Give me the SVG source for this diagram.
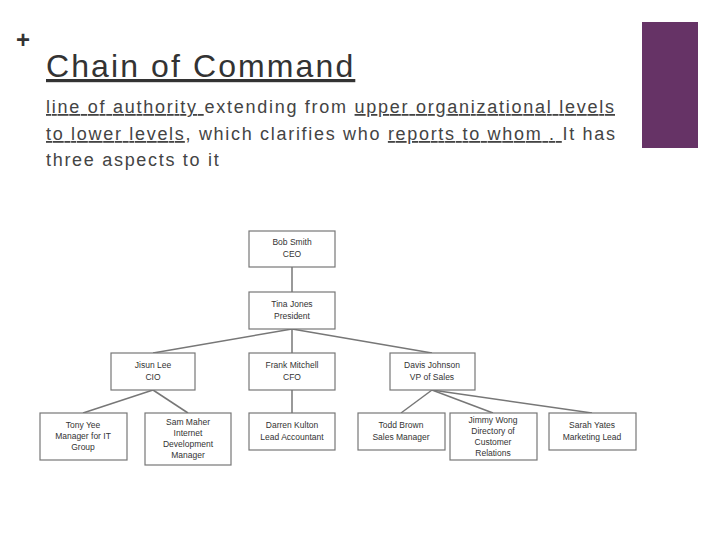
<svg xmlns="http://www.w3.org/2000/svg" width="720" height="540" viewBox="0 0 720 540">
<style>
.t{font-family:"Liberation Sans",Arial,sans-serif;fill:#333}
.b{fill:#fff;stroke:#777;stroke-width:1.2}
.n{font-family:"Liberation Sans",Arial,sans-serif;font-size:8.5px;fill:#333;text-anchor:middle}
.c line{stroke:#777;stroke-width:1.5}
</style>
<rect width="720" height="540" fill="#fff"/>
<rect x="642" y="22" width="56" height="126" fill="#663366"/>
<text class="t" x="16" y="48" font-size="24" font-weight="bold">+</text>
<text class="t" x="46" y="77" font-size="32" letter-spacing="2.1" text-decoration="underline">Chain of Command</text>
<g class="t" font-size="18" letter-spacing="1.05" style="fill:#444">
<text x="46" y="113" textLength="569" lengthAdjust="spacing"><tspan text-decoration="underline">line of authority </tspan>extending from <tspan text-decoration="underline">upper organizational levels</tspan></text>
<text x="46" y="140" textLength="570" lengthAdjust="spacing"><tspan text-decoration="underline">to lower levels</tspan>, which clarifies who <tspan text-decoration="underline">reports to whom . </tspan>It has</text>
<text x="46" y="166" letter-spacing="1.7">three aspects to it</text>
</g>
<g class="c">
<line x1="292" y1="267" x2="292" y2="292"/>
<line x1="292" y1="329" x2="153" y2="353"/>
<line x1="292" y1="329" x2="292" y2="353"/>
<line x1="292" y1="329" x2="432" y2="353"/>
<line x1="153" y1="390" x2="83" y2="413"/>
<line x1="153" y1="390" x2="188" y2="413"/>
<line x1="292" y1="390" x2="292" y2="413"/>
<line x1="432" y1="390" x2="401" y2="413"/>
<line x1="432" y1="390" x2="493" y2="413"/>
<line x1="432" y1="390" x2="592" y2="413"/>
</g>
<g id="ceo"><rect class="b" x="249" y="231" width="86" height="36"/><text class="n" x="292" y="245">Bob Smith</text><text class="n" x="292" y="257">CEO</text></g>
<g id="pres"><rect class="b" x="249" y="292" width="86" height="37"/><text class="n" x="292" y="307">Tina Jones</text><text class="n" x="292" y="319">President</text></g>
<g id="cio"><rect class="b" x="111" y="353" width="84" height="37"/><text class="n" x="153" y="368">Jisun Lee</text><text class="n" x="153" y="380">CIO</text></g>
<g id="cfo"><rect class="b" x="249" y="353" width="86" height="37"/><text class="n" x="292" y="368">Frank Mitchell</text><text class="n" x="292" y="380">CFO</text></g>
<g id="vp"><rect class="b" x="390" y="353" width="85" height="37"/><text class="n" x="432" y="368">Davis Johnson</text><text class="n" x="432" y="380">VP of Sales</text></g>
<g id="tony"><rect class="b" x="40" y="413" width="87" height="47"/><text class="n" x="83" y="428">Tony Yee</text><text class="n" x="83" y="439">Manager for IT</text><text class="n" x="83" y="450">Group</text></g>
<g id="sam"><rect class="b" x="145" y="413" width="86" height="52"/><text class="n" x="188" y="425">Sam Maher</text><text class="n" x="188" y="436">Internet</text><text class="n" x="188" y="447">Development</text><text class="n" x="188" y="458">Manager</text></g>
<g id="darren"><rect class="b" x="249" y="413" width="86" height="37"/><text class="n" x="292" y="428">Darren Kulton</text><text class="n" x="292" y="440">Lead Accountant</text></g>
<g id="todd"><rect class="b" x="358" y="413" width="87" height="37"/><text class="n" x="401" y="428">Todd Brown</text><text class="n" x="401" y="440">Sales Manager</text></g>
<g id="jimmy"><rect class="b" x="450" y="413" width="87" height="47"/><text class="n" x="493" y="423">Jimmy Wong</text><text class="n" x="493" y="434">Directory of</text><text class="n" x="493" y="445">Customer</text><text class="n" x="493" y="456">Relations</text></g>
<g id="sarah"><rect class="b" x="549" y="413" width="87" height="37"/><text class="n" x="592" y="428">Sarah Yates</text><text class="n" x="592" y="440">Marketing Lead</text></g>
</svg>
